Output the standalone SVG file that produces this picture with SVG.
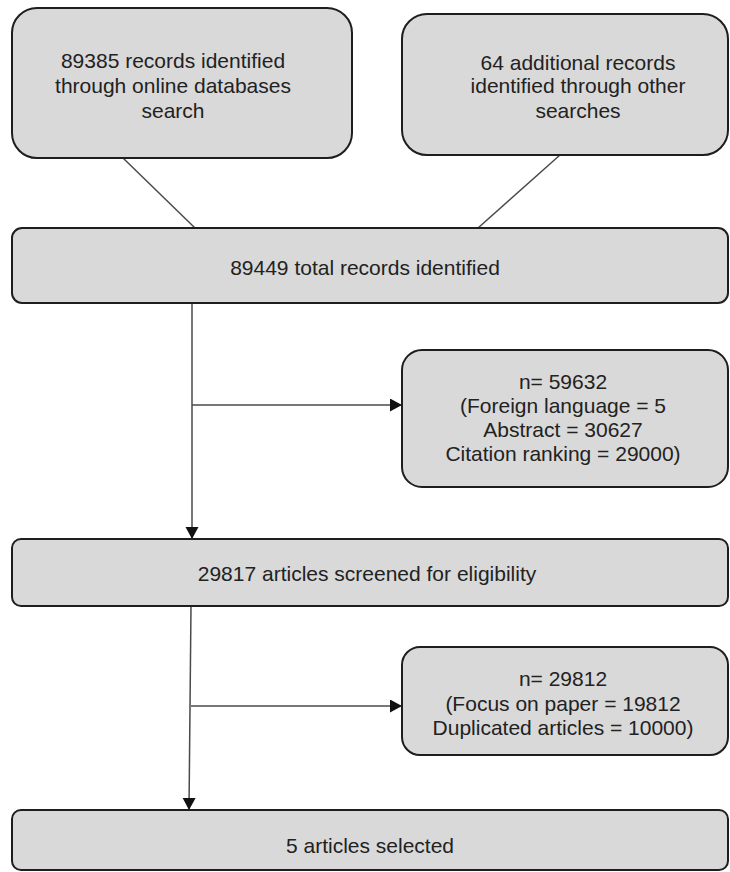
<svg xmlns="http://www.w3.org/2000/svg" width="730" height="872" viewBox="0 0 730 872">
<style>
.box{fill:#d9d9d9;stroke:#1e1e1e;stroke-width:2}
.t{font-family:"Liberation Sans",Arial,sans-serif;font-size:21px;fill:#222;text-anchor:middle}
.ln{fill:none;stroke:#4a4a4a;stroke-width:1.5}
</style>
<defs>
<marker id="ah" markerUnits="userSpaceOnUse" markerWidth="13" markerHeight="14" refX="12" refY="6.5" orient="auto">
<path d="M0,0 L12,6.5 L0,13 z" fill="#111"/>
</marker>
</defs>
<rect width="730" height="872" fill="#ffffff"/>
<g id="connectors">
<line class="ln" x1="123" y1="158" x2="195" y2="228"/>
<line class="ln" x1="560" y1="155" x2="478" y2="228"/>
<line class="ln" x1="192" y1="303" x2="192" y2="539" marker-end="url(#ah)"/>
<line class="ln" x1="192" y1="405" x2="402" y2="405" marker-end="url(#ah)"/>
<line class="ln" x1="191" y1="606" x2="189" y2="810" marker-end="url(#ah)"/>
<line class="ln" x1="191" y1="706" x2="402" y2="706" marker-end="url(#ah)"/>
</g>
<g id="n1">
<rect class="box" x="12" y="8" width="340" height="150" rx="25" ry="25"/>
<text class="t" x="173" y="67.5">89385 records identified</text>
<text class="t" x="173" y="92.5">through online databases</text>
<text class="t" x="173" y="117.5">search</text>
</g>
<g id="n2">
<rect class="box" x="402" y="14" width="326" height="141" rx="25" ry="25"/>
<text class="t" x="578" y="69.5">64 additional records</text>
<text class="t" x="578" y="92.5">identified through other</text>
<text class="t" x="578" y="117.5">searches</text>
</g>
<g id="n3">
<rect class="box" x="12" y="228" width="716" height="75" rx="10" ry="10"/>
<text class="t" x="365" y="274.5">89449 total records identified</text>
</g>
<g id="n4">
<rect class="box" x="402" y="350" width="326" height="137" rx="20" ry="20"/>
<text class="t" x="563" y="388.5">n= 59632</text>
<text class="t" x="563" y="412.5">(Foreign language = 5</text>
<text class="t" x="563" y="436.5">Abstract = 30627</text>
<text class="t" x="563" y="460.5">Citation ranking = 29000)</text>
</g>
<g id="n5">
<rect class="box" x="12" y="539" width="716" height="67" rx="9" ry="9"/>
<text class="t" x="367" y="580.5">29817 articles screened for eligibility</text>
</g>
<g id="n6">
<rect class="box" x="402" y="647" width="326" height="108" rx="18" ry="18"/>
<text class="t" x="563" y="685.5">n= 29812</text>
<text class="t" x="563" y="710.5">(Focus on paper = 19812</text>
<text class="t" x="563" y="734.5">Duplicated articles = 10000)</text>
</g>
<g id="n7">
<rect class="box" x="12" y="810" width="716" height="60" rx="9" ry="9"/>
<text class="t" x="370" y="852.5">5 articles selected</text>
</g>
</svg>
